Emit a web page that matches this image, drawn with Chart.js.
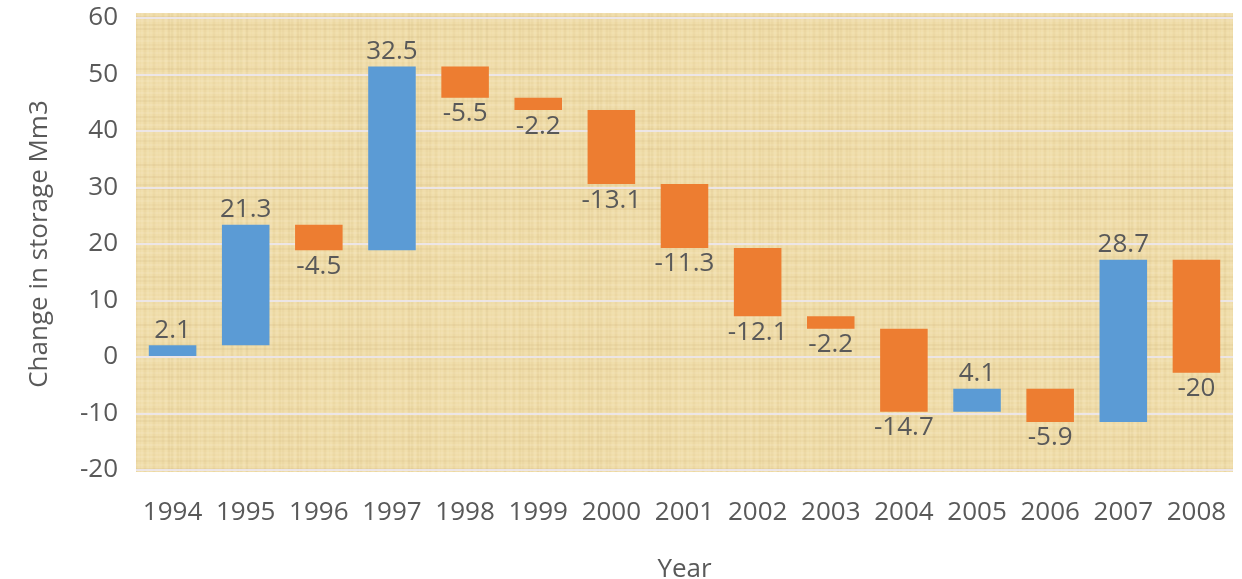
<!DOCTYPE html>
<html>
<head>
<meta charset="utf-8">
<script src="https://cdn.jsdelivr.net/npm/chart.js@4"></script>
<style>
html,body{margin:0;padding:0;background:#fff;}
#wrap{width:1242px;height:579px;position:relative;}
</style>
</head>
<body>
<div id="wrap"><canvas id="c" width="1242" height="579"></canvas></div>
<script>
const years = ['1994','1995','1996','1997','1998','1999','2000','2001','2002','2003','2004','2005','2006','2007','2008'];
const changes = [2.1, 21.3, -4.5, 32.5, -5.5, -2.2, -13.1, -11.3, -12.1, -2.2, -14.7, 4.1, -5.9, 28.7, -20];
const yTicks = [-20, -10, 0, 10, 20, 30, 40, 50, 60];

const upColor = '#5B9BD5';
const downColor = '#ED7D31';
const textColor = '#595959';
const FONT = "'Open Sans', sans-serif";

// floating ranges built from the change values
const ranges = [];
let running = 0;
for (const v of changes) { ranges.push([running, running + v]); running += v; }

// papyrus-like texture pattern (decorative)
function makePattern(ctx) {
  const pc = document.createElement('canvas');
  pc.width = 240; pc.height = 160;
  const p = pc.getContext('2d');
  p.fillStyle = '#EFDCA8';
  p.fillRect(0, 0, 240, 160);
  for (let x = 0; x < 240; x += 3) {
    const a = 0.06 + 0.08 * Math.abs(Math.sin(x * 0.37) * Math.cos(x * 0.11));
    p.fillStyle = (Math.sin(x * 0.73) > 0) ? `rgba(255,246,220,${a})` : `rgba(195,165,105,${a})`;
    p.fillRect(x, 0, 2, 160);
  }
  for (let y = 0; y < 160; y += 4) {
    const a = 0.05 + 0.08 * Math.abs(Math.sin(y * 0.29));
    p.fillStyle = (Math.cos(y * 0.61) > 0) ? `rgba(255,248,228,${a})` : `rgba(190,158,100,${a})`;
    p.fillRect(0, y, 240, 2);
  }
  return ctx.createPattern(pc, 'repeat');
}

const bgPlugin = {
  id: 'bg',
  beforeDraw(chart) {
    const {ctx, chartArea: a} = chart;
    ctx.save();
    ctx.fillStyle = makePattern(ctx);
    ctx.fillRect(a.left, a.top - 5, a.right - a.left, a.bottom - a.top + 7);
    ctx.restore();
  }
};

const labelPlugin = {
  id: 'vals',
  afterDatasetsDraw(chart) {
    const {ctx} = chart;
    const meta = chart.getDatasetMeta(0);
    ctx.save();
    ctx.font = `26px ${FONT}`;
    ctx.fillStyle = textColor;
    ctx.textAlign = 'center';
    meta.data.forEach((el, i) => {
      const v = changes[i];
      const top = Math.min(el.y, el.base);
      const bot = Math.max(el.y, el.base);
      if (v >= 0) {
        ctx.textBaseline = 'bottom';
        ctx.fillText(String(v), el.x, top - 2);
      } else {
        ctx.textBaseline = 'top';
        ctx.fillText(String(v), el.x, bot + 3);
      }
    });
    ctx.restore();
  }
};

new Chart(document.getElementById('c'), {
  type: 'bar',
  data: {
    labels: years,
    datasets: [{
      data: ranges,
      backgroundColor: changes.map(v => v >= 0 ? upColor : downColor),
      borderWidth: 0,
      barPercentage: 0.65,
      categoryPercentage: 1.0
    }]
  },
  options: {
    responsive: false,
    animation: false,
    layout: { padding: { left: 20, right: 9, top: 18, bottom: 2 } },
    plugins: { legend: { display: false }, tooltip: { enabled: false } },
    scales: {
      x: {
        grid: { display: false, drawTicks: false },
        border: { display: false },
        ticks: { color: textColor, font: { family: FONT, size: 26 }, padding: 27, maxRotation: 0 },
        title: { display: true, text: 'Year', color: textColor, font: { family: FONT, size: 26 }, padding: { top: 18, bottom: -8 } },
        afterFit(s) { s.height = 579 - 470 - 2; s.paddingLeft = 0; s.paddingRight = 0; }
      },
      y: {
        min: -20, max: 60,
        afterBuildTicks(s) { s.ticks = yTicks.map(v => ({ value: v })); },
        grid: { color: 'rgba(236,231,236,0.9)', lineWidth: 2, drawTicks: false },
        border: { display: false },
        ticks: { color: textColor, font: { family: FONT, size: 26 }, padding: 18 },
        title: { display: true, text: 'Change in storage Mm3', color: textColor, font: { family: FONT, size: 26 }, padding: { bottom: 14 } },
        afterFit(s) { s.width = 136 - 20; s.paddingTop = 0; s.paddingBottom = 0; }
      }
    }
  },
  plugins: [bgPlugin, labelPlugin]
});
</script>
</body>
</html>
